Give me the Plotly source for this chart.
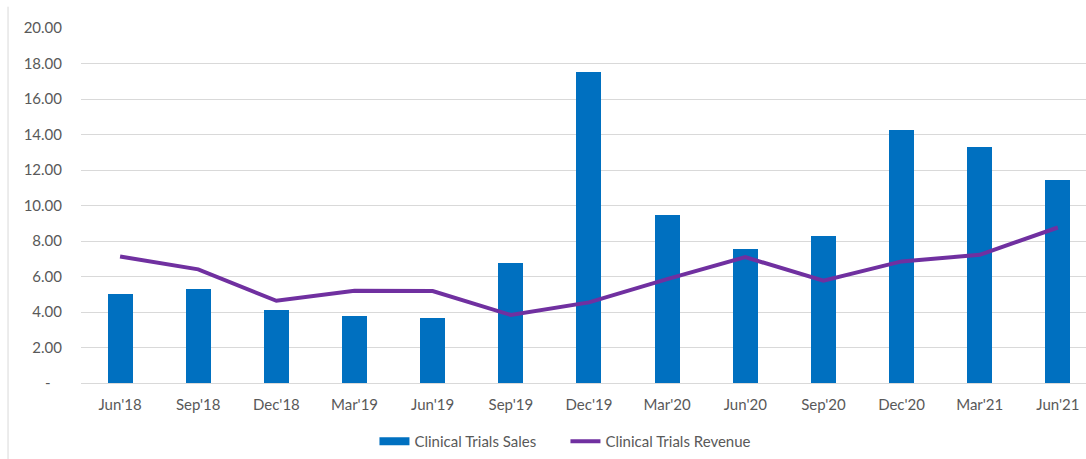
import plotly.graph_objects as go

categories = ["Jun'18", "Sep'18", "Dec'18", "Mar'19", "Jun'19", "Sep'19", "Dec'19",
              "Mar'20", "Jun'20", "Sep'20", "Dec'20", "Mar'21", "Jun'21"]
sales = [5.0, 5.3, 4.1, 3.8, 3.65, 6.75, 17.5, 9.45, 7.56, 8.29, 14.26, 13.3, 11.42]
revenue = [7.13, 6.4, 4.63, 5.2, 5.18, 3.83, 4.54, 5.85, 7.09, 5.76, 6.85, 7.22, 8.76]
tick_vals = [0, 2, 4, 6, 8, 10, 12, 14, 16, 18, 20]
tick_text = ["-\u00a0\u00a0\u00a0", "2.00", "4.00", "6.00", "8.00", "10.00", "12.00",
             "14.00", "16.00", "18.00", "20.00"]

FONT = "Lato, Carlito, Calibri, sans-serif"
GRAY = "#595959"
BLUE = "#0070C0"
PURPLE = "#7030A0"

xs = list(range(len(categories)))

fig = go.Figure()
fig.add_trace(go.Bar(x=xs, y=sales, name="Clinical Trials Sales", showlegend=False,
                     marker=dict(color=BLUE, line=dict(width=0)), width=0.32))
fig.add_trace(go.Scatter(x=[None], y=[None], name="Clinical Trials Sales", mode="lines",
                         line=dict(color=BLUE, width=8), showlegend=True))
fig.add_trace(go.Scatter(x=xs, y=revenue, name="Clinical Trials Revenue",
                         mode="lines", line=dict(color=PURPLE, width=4)))

fig.update_layout(
    width=1086, height=459,
    margin=dict(l=81, r=0, t=28, b=76),
    paper_bgcolor="white", plot_bgcolor="white",
    font=dict(family=FONT, size=15, color=GRAY),
    showlegend=True,
    legend=dict(orientation="h", x=0.292, xanchor="left", y=-0.165, yanchor="middle",
                font=dict(family=FONT, size=15, color=GRAY), itemwidth=30,
                entrywidth=146, traceorder="normal", tracegroupgap=0),
    bargap=0,
)
fig.update_xaxes(range=[-0.5, 12.36], tickvals=xs, ticktext=categories,
                 showgrid=False, showline=True, linecolor="#D9D9D9", linewidth=1,
                 ticks="", ticklabelstandoff=8,
                 tickfont=dict(family=FONT, size=15, color=GRAY), zeroline=False)
fig.update_yaxes(range=[0, 20], tickvals=tick_vals, ticktext=tick_text, showgrid=True,
                 gridcolor="#D9D9D9", gridwidth=1, zeroline=False, ticks="",
                 ticklabelstandoff=18,
                 tickfont=dict(family=FONT, size=15, color=GRAY))
fig.add_shape(type="line", xref="paper", yref="paper", x0=-0.0726, x1=-0.0726,
              y0=-0.22, y1=1.06, line=dict(color="#D9D9D9", width=1))

fig.write_html("out.html", config={"displayModeBar": False},
               post_script="document.body.style.margin='0';document.body.style.overflow='hidden';")
